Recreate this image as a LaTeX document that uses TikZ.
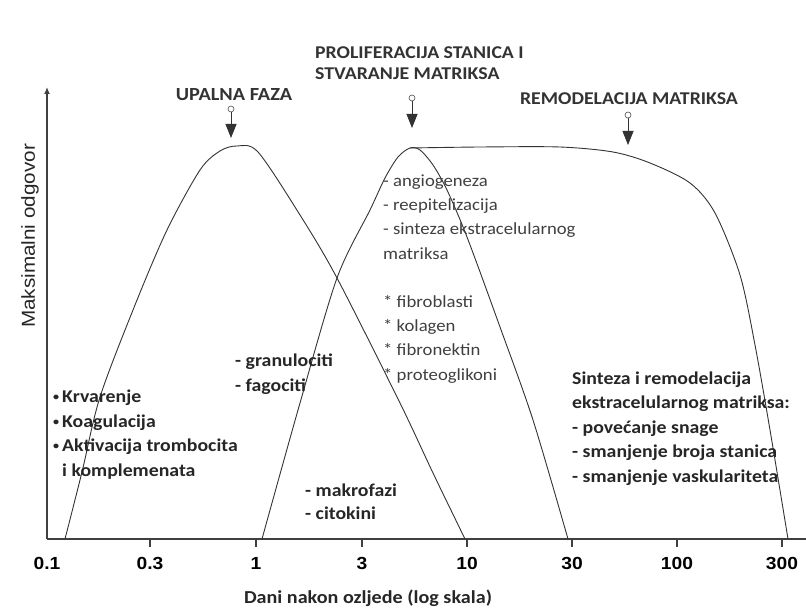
\documentclass[tikz,border=0pt]{standalone}
\usepackage{fontspec}
\setmainfont{Carlito}[FakeStretch=1.1]
\newfontfamily\arialfont{Liberation Sans}[FakeStretch=1.1]
\usetikzlibrary{arrows.meta}
\newcommand{\dotmark}{\raisebox{2pt}{\fontsize{11}{11}\selectfont •}\kern3pt}

\begin{document}
\begin{tikzpicture}[x=1pt,y=-1pt,
	axis/.style={line width=1.3pt, black!75},
	curve/.style={line width=0.9pt, black!80},
	title/.style={font=\fontsize{18}{21.5}\selectfont\bfseries, text=black!80, inner sep=0pt, align=left},
	note/.style={font=\fontsize{17}{24.2}\selectfont, text=black!75, inner sep=0pt, align=left, anchor=base west},
	notebold/.style={note, font=\fontsize{18}{24.5}\selectfont\bfseries, text=black!85},
	ticklabel/.style={font=\arialfont\fontsize{17.5}{18}\selectfont\bfseries, inner sep=0pt},
	marker/.style={circle, draw=black!70, fill=white, line width=0.6pt, inner sep=0pt, minimum size=6pt},
	pointer/.style={black!80, line width=0.8pt, -{Triangle[width=11pt,length=14pt]}}]
	\useasboundingbox (0,0) rectangle (806,615);

	\coordinate (origin) at (47,539);
	\coordinate (ytop) at (47,87);
	\coordinate (xend) at (806,539);
	\draw[axis, -{Latex[width=6pt,length=7pt]}] (origin) -- (ytop);
	\draw[axis] (origin) -- (xend);

	\coordinate (t1) at (47,539);
	\coordinate (t2) at (150,539);
	\coordinate (t3) at (256,539);
	\coordinate (t4) at (362,539);
	\coordinate (t5) at (467,539);
	\coordinate (t6) at (572,539);
	\coordinate (t7) at (677,539);
	\coordinate (t8) at (782,539);
	\draw[axis] (t2) -- ++(0,8);
	\draw[axis] (t3) -- ++(0,8);
	\draw[axis] (t4) -- ++(0,8);
	\draw[axis] (t5) -- ++(0,8);
	\draw[axis] (t6) -- ++(0,8);
	\draw[axis] (t7) -- ++(0,8);
	\draw[axis] (t8) -- ++(0,8);
	\node (l1) at (47,563) [ticklabel] {0.1};
	\node (l2) at (150,563) [ticklabel] {0.3};
	\node (l3) at (256,563) [ticklabel] {1};
	\node (l4) at (362,563) [ticklabel] {3};
	\node (l5) at (467,563) [ticklabel] {10};
	\node (l6) at (572,563) [ticklabel] {30};
	\node (l7) at (677,563) [ticklabel] {100};
	\node (l8) at (782,563) [ticklabel] {300};

	\node (xlabel) at (368,603) [anchor=base, inner sep=0pt, font=\fontsize{18.3}{20}\selectfont\bfseries, text=black!85] {Dani nakon ozljede (log skala)};
	\node (ylabel) at (30,236) [rotate=90, inner sep=0pt, font=\arialfont\fontsize{18.8}{20}\selectfont, text=black!85] {Maksimalni odgovor};

	\draw[curve] plot[smooth] coordinates {(65,539) (82,472) (100,397) (135,305) (167,230) (200,170) (220,151) (237,146) (258,152) (300,215) (337,278) (400,403) (433,473) (465,539)};
	\draw[curve] plot[smooth] coordinates {(262,539) (300,403) (337,278) (370,210) (385,178) (398,157) (410,148) (420,150) (433,165) (447,190) (467,237) (500,327) (533,420) (568,539)};
	\draw[curve] plot[smooth] coordinates {(410,148) (480,147) (560,147) (613,152) (650,163) (690,183) (715,213) (740,275) (755,345) (770,430) (788,539)};

	\node (upalna) at (234,101) [title, anchor=base, font=\fontsize{18.5}{21.5}\selectfont\bfseries] {UPALNA FAZA};
	\node (prolif) at (315,80) [title, anchor=base west] {PROLIFERACIJA STANICA I\\STVARANJE MATRIKSA};
	\node (remod) at (629,105) [title, anchor=base] {REMODELACIJA MATRIKSA};

	\node (mk1) at (231,109) [marker] {};
	\node (mk2) at (412,98) [marker] {};
	\node (mk3) at (628,115) [marker] {};
	\coordinate (tip1) at (231,138);
	\coordinate (tip2) at (412,128);
	\coordinate (tip3) at (628,145);
	\draw[pointer] (mk1) -- (tip1);
	\draw[pointer] (mk2) -- (tip2);
	\draw[pointer] (mk3) -- (tip3);

	\node (hemostaza) at (53,476) [notebold] {\dotmark Krvarenje\\\dotmark Koagulacija\\\dotmark Aktivacija trombocita\\\phantom{\dotmark}i komplemenata};
	\node (stanice) at (235,391) [notebold] {- granulociti\\- fagociti};
	\node (makro) at (305,519) [notebold, font=\fontsize{18}{23}\selectfont\bfseries] {- makrofazi\\- citokini};
	\node (procesi) at (383,380) [note] {- angiogeneza\\- reepitelizacija\\- sinteza ekstracelularnog\\matriksa\\[24.2pt]* fibroblasti\\* kolagen\\* fibronektin\\* proteoglikoni};
	\node (sinteza) at (572,482) [notebold] {Sinteza i remodelacija\\ekstracelularnog matriksa:\\- povećanje snage\\- smanjenje broja stanica\\- smanjenje vaskulariteta};
\end{tikzpicture}
\end{document}
